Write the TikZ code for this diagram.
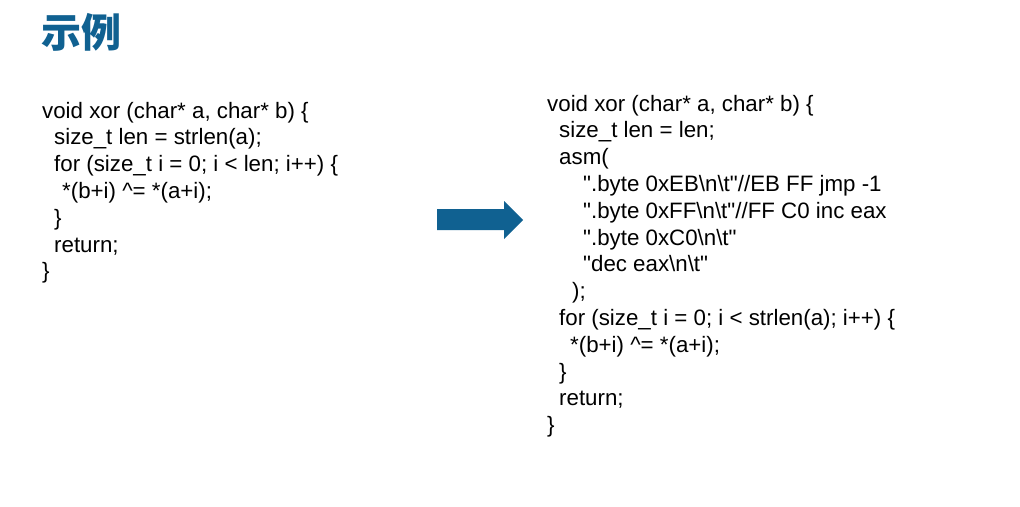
\documentclass[tikz,border=0pt]{standalone}
\usepackage{fontspec}
\setmainfont{Liberation Sans}
\newfontfamily\codefont{Liberation Sans}
\newfontfamily\cjkfont{Noto Sans CJK SC}
\definecolor{slideblue}{RGB}{16,97,145}
\newcommand{\bs}{\textbackslash}

\begin{document}
\begin{tikzpicture}[x=1pt,y=-1pt,
  code/.style={anchor=base west,inner sep=0pt,align=left,
    font=\codefont\fontsize{22.3}{26.8}\selectfont}]
\useasboundingbox[fill=white] (0,0) rectangle (1020,506);

% Title
\node[anchor=base west,inner sep=0pt,text=slideblue,
  font=\cjkfont\bfseries\fontsize{40}{44}\selectfont] (title) at (41,47) {示例};

% Original code (anchored at the baseline of its last line)
\node[code] (before) at (42,278.8) {%
void xor (char* a, char* b) \{\\
\hspace*{12pt}size\_t len = strlen(a);\\
\hspace*{12pt}for (size\_t i = 0; i < len; i++) \{\\
\hspace*{20pt}*(b+i) \textasciicircum= *(a+i);\\
\hspace*{12pt}\}\\
\hspace*{12pt}return;\\
\}};

% Block arrow
\fill[slideblue] (437,209) -- (504,209) -- (504,201) -- (523,220)
  -- (504,239) -- (504,230) -- (437,230) -- cycle;

% Obfuscated code
\node[code] (after) at (547,432.6) {%
void xor (char* a, char* b) \{\\
\hspace*{12pt}size\_t len = len;\\
\hspace*{12pt}asm(\\
\hspace*{36pt}".byte 0xEB\bs n\bs t"//EB FF jmp -1\\
\hspace*{36pt}".byte 0xFF\bs n\bs t"//FF C0 inc eax\\
\hspace*{36pt}".byte 0xC0\bs n\bs t"\\
\hspace*{36pt}"dec eax\bs n\bs t"\\
\hspace*{25pt});\\
\hspace*{12pt}for (size\_t i = 0; i < strlen(a); i++) \{\\
\hspace*{23pt}*(b+i) \textasciicircum= *(a+i);\\
\hspace*{12pt}\}\\
\hspace*{12pt}return;\\
\}};

\end{tikzpicture}
\end{document}
